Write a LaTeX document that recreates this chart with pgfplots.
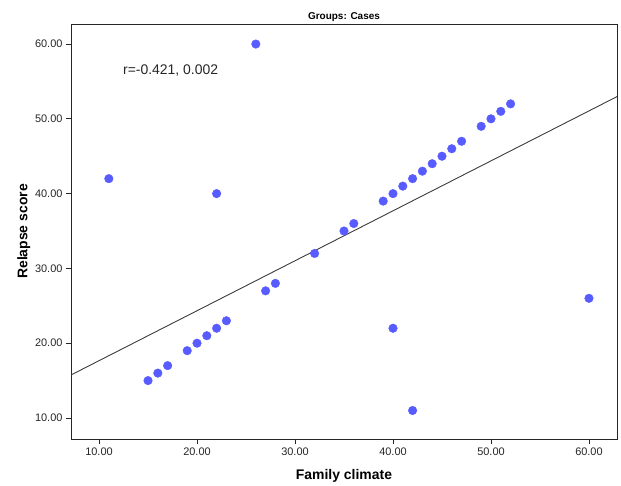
\documentclass[border=0pt]{standalone}
\usepackage{fontspec}
\setmainfont{Liberation Sans}
\usepackage{pgfplots}
\pgfplotsset{compat=1.18}
\definecolor{dotblue}{RGB}{88,92,255}
\definecolor{fitline}{RGB}{60,60,60}

\begin{document}
\begin{tikzpicture}[x=1bp,y=1bp]
\begin{axis}[
  name=ax,
  scale only axis,
  width=546bp, height=415bp,
  xmin=7.14, xmax=62.86,
  ymin=7.19, ymax=62.68,
  xtick={10,20,30,40,50,60},
  ytick={10,20,30,40,50,60},
  tick align=outside,
  tick pos=left,
  major tick length=5bp,
  axis line style={line width=0.9bp, draw=black!85},
  every tick/.style={line width=0.9bp, black!85},
  /pgf/number format/.cd, fixed, fixed zerofill, precision=2, assume math mode=true,
  /pgfplots/.cd,
  tick label style={font=\fontsize{11}{13}\selectfont, text=black!85},
  xlabel={\textbf{Family climate}},
  ylabel={\textbf{Relapse score}},
  label style={font=\fontsize{14}{16}\selectfont},
  xlabel style={yshift=-7bp},
  ylabel style={yshift=-2bp},
  title={\textbf{Groups: Cases}},
  title style={font=\fontsize{10}{12}\selectfont, yshift=-7bp},
  clip=true,
]
\addplot[fitline, line width=0.9bp] coordinates {
  (7.14,15.75) (62.86,52.97)
};
\addplot[only marks, mark=*, mark size=4.3bp, mark options={draw=dotblue, fill=dotblue}] coordinates {
  (11,42) (22,40) (26,60)
  (15,15) (16,16) (17,17) (19,19) (20,20) (21,21) (22,22) (23,23)
  (27,27) (28,28) (32,32) (35,35) (36,36)
  (39,39) (40,40) (41,41) (42,42) (43,43) (44,44) (45,45) (46,46) (47,47)
  (49,49) (50,50) (51,51) (52,52)
  (40,22) (42,11) (60,26)
};
\node[anchor=west, font=\fontsize{14}{16}\selectfont, text=black!85] at (axis cs:12.1,56.4) {r=-0.421, 0.002};
\end{axis}
\pgfresetboundingbox
\useasboundingbox ([shift={(-71bp,-47bp)}]ax.south west) rectangle ([shift={(4bp,24bp)}]ax.north east);
\end{tikzpicture}
\end{document}
